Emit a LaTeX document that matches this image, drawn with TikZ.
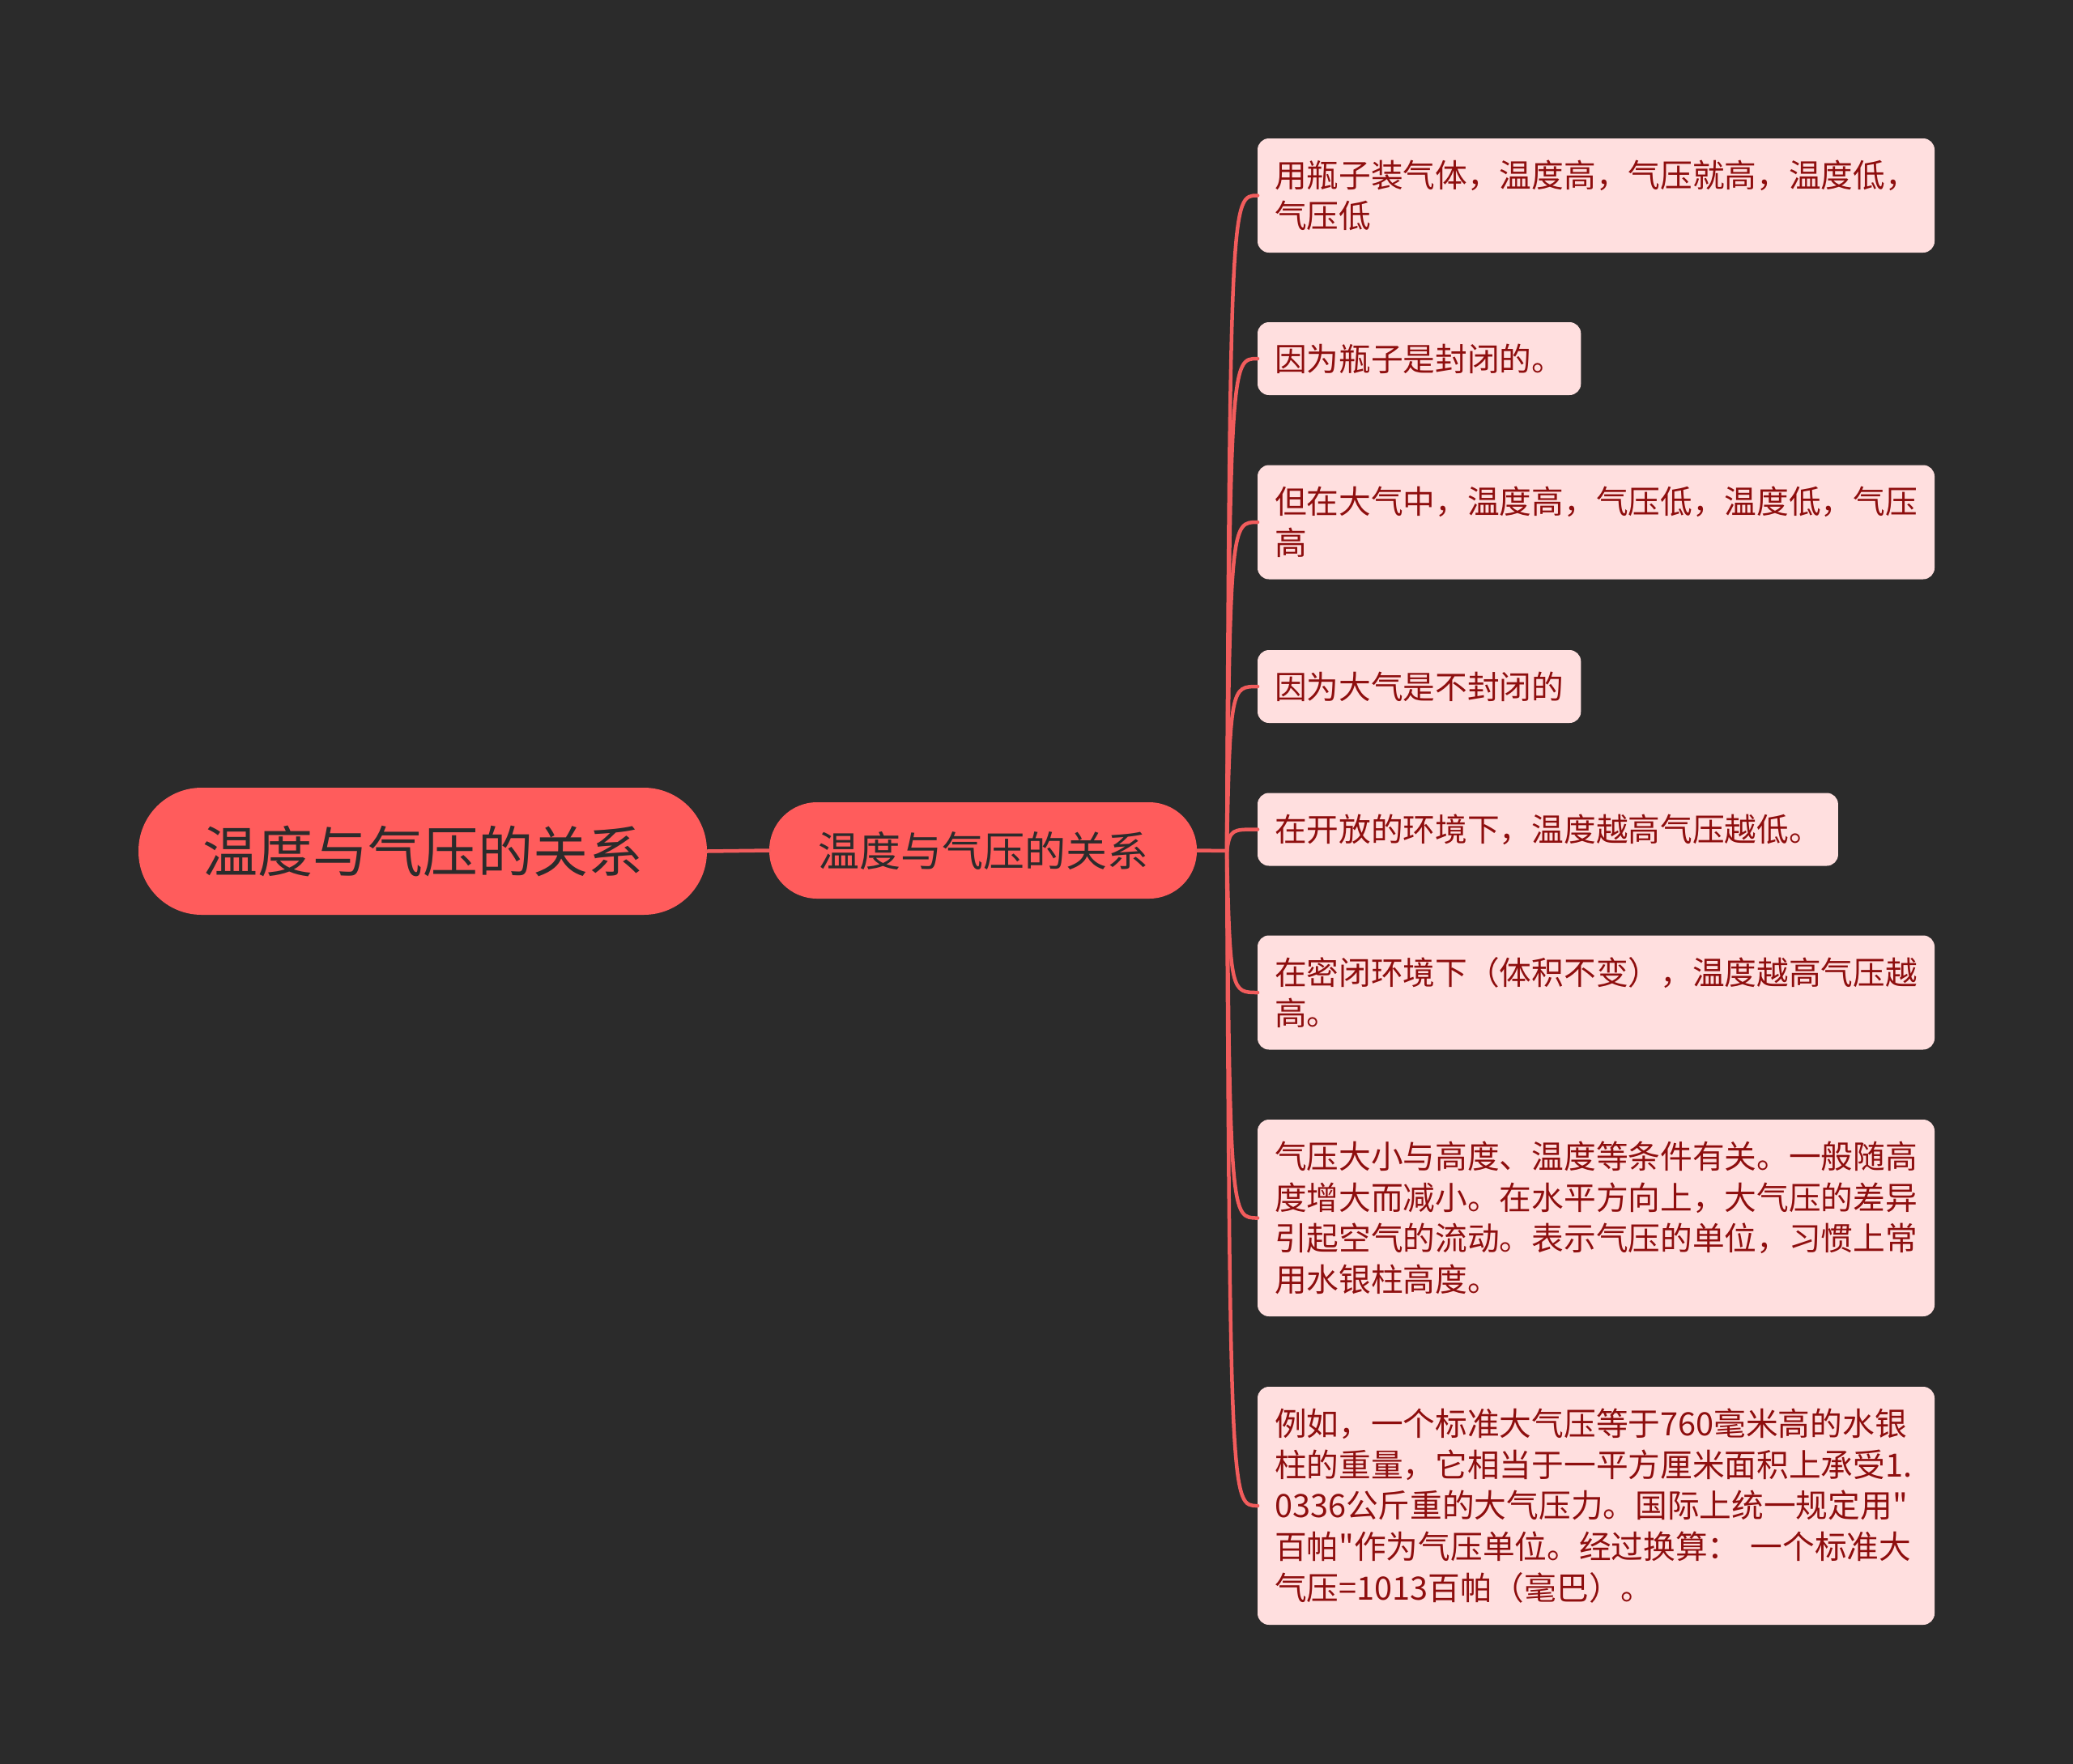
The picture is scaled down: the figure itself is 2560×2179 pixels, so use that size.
\documentclass[tikz,border=0pt]{standalone}
\usepackage{fontspec}
\newfontfamily\cjk{Noto Sans CJK SC}
\definecolor{bgc}{HTML}{2B2B2B}
\definecolor{mainc}{HTML}{FF5C5C}
\definecolor{darktxt}{HTML}{2B2B2B}
\definecolor{leaffill}{HTML}{FFDFDF}
\definecolor{leaftxt}{HTML}{8E0E0E}
\definecolor{linec}{HTML}{F25C5C}
\begin{document}
\begin{tikzpicture}[x=1pt,y=-1pt,
  rootbox/.style={fill=mainc, text=darktxt, rounded corners=78pt, minimum width=702pt, minimum height=157pt, inner sep=0pt, outer sep=0pt, font=\cjk\fontsize{68}{80}\selectfont},
  midbox/.style={fill=mainc, text=darktxt, rounded corners=59pt, minimum width=528pt, minimum height=119pt, inner sep=0pt, outer sep=0pt, font=\cjk\fontsize{51}{62}\selectfont},
  leaf/.style={fill=leaffill, text=leaftxt, rounded corners=14pt, anchor=west, inner xsep=21pt, inner ysep=0pt, outer sep=0pt, align=left, font=\cjk\fontsize{39.7}{50.6}\selectfont},
  wideleaf/.style={leaf, text width=794pt},
  conn/.style={draw=linec, line width=4.5pt, line cap=round}
]
\fill[bgc] (0,0) rectangle (2560,2179);
\useasboundingbox (0,0) rectangle (2560,2179);

\node[rootbox] (root) at (522,1051.5) {温度与气压的关系};
\node[midbox] (mid) at (1214,1050.5) {温度与气压的关系};

\node[wideleaf, minimum height=141pt] (l1) at (1553,241.5) {用瓶子装气体，温度高，气压就高，温度低，\\气压低};
\node[leaf, minimum height=90pt] (l2) at (1553,443) {因为瓶子是封闭的。};
\node[wideleaf, minimum height=141pt] (l3) at (1553,645) {但在大气中，温度高，气压低，温度低，气压\\高};
\node[leaf, minimum height=90pt] (l4) at (1553,848) {因为大气是不封闭的};
\node[leaf, minimum height=90pt] (l5) at (1553,1024.5) {在开放的环境下，温度越高气压越低。};
\node[wideleaf, minimum height=141pt] (l6) at (1553,1226) {在密闭环境下（体积不变），温度越高气压越\\高。};
\node[wideleaf, minimum height=243pt] (l7) at (1553,1504.5) {气压大小与高度、温度等条件有关。一般随高\\度增大而减小。在水平方向上，大气压的差异\\引起空气的流动。表示气压的单位，习惯上常\\用水银柱高度。};
\node[wideleaf, minimum height=294pt] (l8) at (1553,1860) {例如，一个标准大气压等于760毫米高的水银\\柱的重量，它相当于一平方厘米面积上承受1.\\0336公斤重的大气压力。国际上统一规定用"\\百帕"作为气压单位。经过换算： 一个标准大\\气压=1013百帕（毫巴）。};

\coordinate (J) at (1515,1051);
\draw[conn] (root.east) -- (mid.west);
\draw[conn] (mid.east) -- (J);
\foreach \l in {l1,l2,l3,l4,l5,l6,l7,l8}{
  \draw[conn] (J) .. controls ([xshift=4pt]J |- \l.west) and ([xshift=6pt]J |- \l.west) .. (\l.west);
}
\end{tikzpicture}
\end{document}
